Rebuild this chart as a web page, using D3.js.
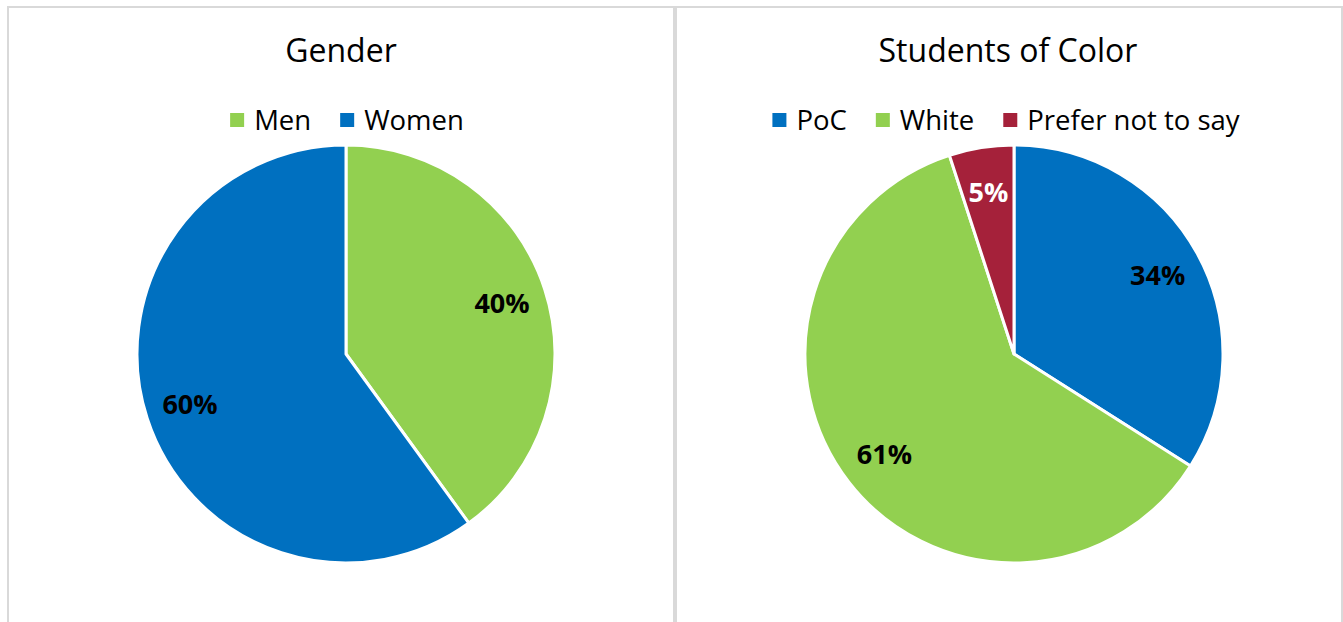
<!DOCTYPE html>
<html>
<head>
<meta charset="utf-8">
<script src="https://cdn.jsdelivr.net/npm/d3@7"></script>
<style>
  html, body { margin: 0; padding: 0; background: #fff; }
  svg { display: block; font-family: "Open Sans", sans-serif; }
</style>
</head>
<body>
<svg id="chart" width="1343" height="622"></svg>
<script>
// ---- data ----
const genderTitle = "Gender";
const genderCategories = ["Men", "Women"];
const genderValues = [40, 60];
const genderColors = ["#92d050", "#0070c0"];
const genderLabelColors = ["#000", "#000"];

const socTitle = "Students of Color";
const socCategories = ["PoC", "White", "Prefer not to say"];
const socValues = [34, 61, 5];
const socColors = ["#0070c0", "#92d050", "#a5213a"];
const socLabelColors = ["#000", "#000", "#fff"];

// ---- layout ----
const svg = d3.select("#chart");
const panels = [
  { title: genderTitle, cats: genderCategories, vals: genderValues, colors: genderColors, labelColors: genderLabelColors,
    x0: 8, x1: 674, titleX: 341, legendX: 347, cx: 346 },
  { title: socTitle, cats: socCategories, vals: socValues, colors: socColors, labelColors: socLabelColors,
    x0: 676, x1: 1342, titleX: 1008, legendX: 1006, cx: 1014 }
];
const cy = 354, R = 209, labelR = 164;

panels.forEach(p => {
  const g = svg.append("g");
  g.append("rect")
    .attr("x", p.x0).attr("y", 7)
    .attr("width", p.x1 - p.x0).attr("height", 640)
    .attr("fill", "#fff").attr("stroke", "#d9d9d9").attr("stroke-width", 2);

  g.append("text")
    .attr("x", p.titleX).attr("y", 62)
    .attr("text-anchor", "middle")
    .attr("font-size", 32).attr("fill", "#000")
    .text(p.title);

  // legend
  const lg = g.append("g");
  let x = 0;
  p.cats.forEach((c, i) => {
    const item = lg.append("g").attr("transform", `translate(${x},0)`);
    item.append("rect").attr("x", 0).attr("y", 113).attr("width", 14).attr("height", 14).attr("fill", p.colors[i]);
    const t = item.append("text").attr("x", 24).attr("y", 130)
      .attr("font-size", 27.5).attr("fill", "#000").text(c);
    x += 24 + t.node().getComputedTextLength() + 29;
  });
  const lw = x - 29;
  lg.attr("transform", `translate(${p.legendX - lw / 2},0)`);

  // pie
  const pie = d3.pie().sort(null).value(d => d)(p.vals);
  const arc = d3.arc().innerRadius(0).outerRadius(R);
  const labelArc = d3.arc().innerRadius(labelR).outerRadius(labelR);
  const pg = g.append("g").attr("transform", `translate(${p.cx},${cy})`);
  pg.selectAll("path").data(pie).join("path")
    .attr("d", arc)
    .attr("fill", (d, i) => p.colors[i])
    .attr("stroke", "#fff").attr("stroke-width", 3).attr("stroke-linejoin", "round");
  pg.selectAll("text").data(pie).join("text")
    .attr("transform", d => `translate(${labelArc.centroid(d)})`)
    .attr("text-anchor", "middle").attr("dy", "0.36em")
    .attr("font-size", 27).attr("font-weight", "bold")
    .attr("fill", (d, i) => p.labelColors[i])
    .text(d => d.data + "%");
});
</script>
</body>
</html>
